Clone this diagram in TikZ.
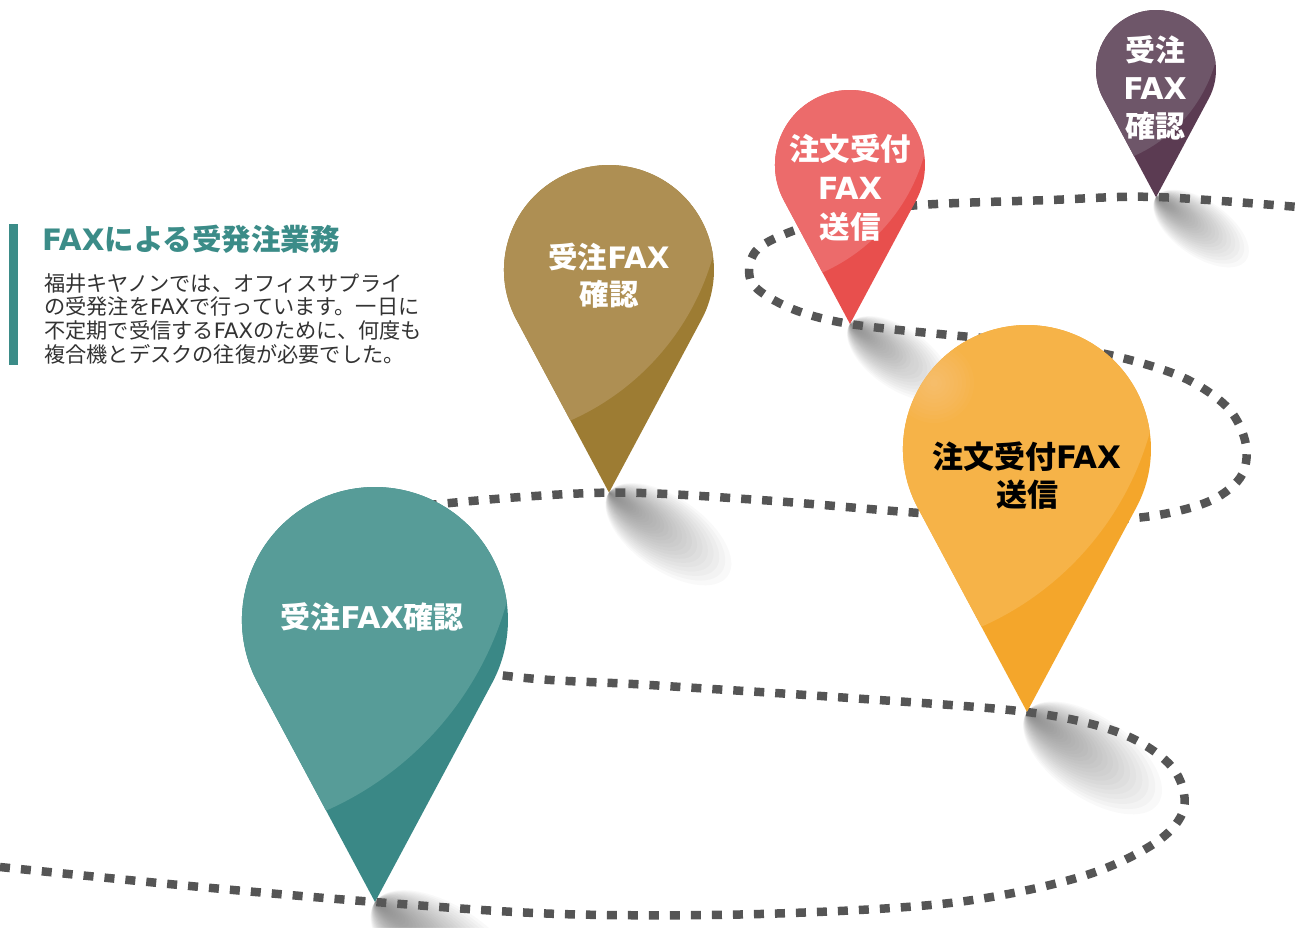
\documentclass[tikz,border=0pt]{standalone}
\usepackage{fontspec}
\newfontfamily\jp{Noto Sans CJK JP}
\newfontfamily\lat{DejaVu Sans}
\definecolor{roadgray}{HTML}{555555}
\definecolor{shadowgray}{HTML}{707070}
\definecolor{tealL}{HTML}{579C98}
\definecolor{tealD}{HTML}{3A8886}
\definecolor{goldL}{HTML}{AE8F53}
\definecolor{goldD}{HTML}{9D7C33}
\definecolor{redL}{HTML}{EC6B6B}
\definecolor{redD}{HTML}{E84F4D}
\definecolor{purL}{HTML}{6E5669}
\definecolor{purD}{HTML}{5B3B52}
\definecolor{orL}{HTML}{F6B348}
\definecolor{orD}{HTML}{F4A62B}
\definecolor{headteal}{HTML}{3B8C88}
\definecolor{bodytext}{HTML}{333333}
\tikzset{
  road/.style={line width=8.5pt, draw=roadgray, dash pattern=on 10pt off 11pt},
  pinlabel/.style={align=center, inner sep=0pt},
}
% pin: cx, cy, R, light, dark
\newcommand\mypin[5]{%
  \fill[#5] (#1,{#2+2.12*#3}) -- ({#1-0.882*#3},{#2+0.472*#3})
     arc[start angle=151.85, end angle=388.15, radius=#3] -- cycle;
  \begin{scope}
    \clip (#1,{#2+2.12*#3}) -- ({#1-0.882*#3},{#2+0.472*#3})
     arc[start angle=151.85, end angle=388.15, radius=#3] -- cycle;
    \fill[#4] ({#1-1.35*#3},{#2-0.79*#3}) circle[radius={2.43*#3}];
  \end{scope}}
% shadow: tip name, length
\newcommand\pinshadow[2]{%
  \begin{scope}[shift={(#1)}, rotate=-35]
    \foreach \k in {1,...,40}{%
      \pgfmathsetmacro\f{(\k/40)^2}
      \pgfmathsetmacro\g{0.28+0.22*\k/40}
      \fill[shadowgray, opacity=0.04] ({#2*\f/2},0) ellipse [x radius={#2*\f/2}, y radius={\g*#2*\f/2}];
    }
  \end{scope}}
\begin{document}
\begin{tikzpicture}[x=1pt, y=-1pt]
\fill[white] (0,0) rectangle (1305,927);
\useasboundingbox (0,0) rectangle (1305,927);
\clip (0,0) rectangle (1305,927);

\coordinate (tealtip) at (375,902);
\coordinate (goldtip) at (609,492.6);
\coordinate (redtip) at (850,324);
\coordinate (purtip) at (1156,197);
\coordinate (ortip) at (1027,712);

% road
\draw[road] plot[smooth, tension=0.55] coordinates {(0,867) (190,886) (tealtip) (560,914) (760,914) (950,903) (1080,877) (1155,843) (1184,808) (1172,767) (1120,733) (ortip) (850,698) (650,685) (500,675) (330,640) (300,560) (380,515) (450,503) (goldtip) (760,500) (920,513) (1030,518) (1135,518) (1205,503) (1240,478) (1246,445) (1228,408) (1182,377) (1110,355) (1030,342) (960,336) (redtip) (790,308) (752,283) (755,252) (790,232) (850,215) (920,205) (1050,200) (purtip) (1310,208)};

% shadows
\pinshadow{tealtip}{180}
\pinshadow{goldtip}{145}
\pinshadow{redtip}{120}
\pinshadow{purtip}{110}
\pinshadow{ortip}{160}

% pins
\mypin{375}{620}{133}{tealL}{tealD}
\mypin{609}{270}{105}{goldL}{goldD}
\mypin{850}{165}{75}{redL}{redD}
\mypin{1156}{70}{60}{purL}{purD}
\mypin{1027}{449}{124}{orL}{orD}
% soft highlight on the orange pin
\foreach \r in {4,8,...,40}{\fill[white, opacity=0.022] (934,383) circle[radius=\r];}

% pin labels
\node[pinlabel, text=white, font=\jp\bfseries\fontsize{30}{30}\selectfont] (tealtext) at (372,617) {受注{\lat FAX}確認};
\node[pinlabel, text=white, font=\jp\bfseries\fontsize{29.5}{37}\selectfont] (goldtext) at (609,275.5) {受注{\lat FAX}\\確認};
\node[pinlabel, text=white, font=\jp\bfseries\fontsize{30.5}{39}\selectfont] (redtext) at (850,187.5) {注文受付\\{\lat FAX}\\送信};
\node[pinlabel, text=white, font=\jp\bfseries\fontsize{30}{38}\selectfont] (purtext) at (1155,88) {受注\\{\lat FAX}\\確認};
\node[pinlabel, text=black, font=\jp\bfseries\fontsize{31}{38}\selectfont] (ortext) at (1027,476) {注文受付{\lat FAX}\\送信};

% left text block
\fill[headteal] (9,224) rectangle (18,365);
\node[anchor=base west, inner sep=0pt, text=headteal, font=\jp\bfseries\fontsize{29.5}{29.5}\selectfont] (head) at (42,250) {{\lat FAX}による受発注業務};
\node[anchor=north west, inner sep=0pt, align=left, text=bodytext, font=\jp\fontsize{21.2}{23.7}\selectfont] (body) at (44,273) {福井キヤノンでは、オフィスサプライ\\の受発注を{\lat FAX}で行っています。一日に\\不定期で受信する{\lat FAX}のために、何度も\\複合機とデスクの往復が必要でした。};
\end{tikzpicture}
\end{document}
